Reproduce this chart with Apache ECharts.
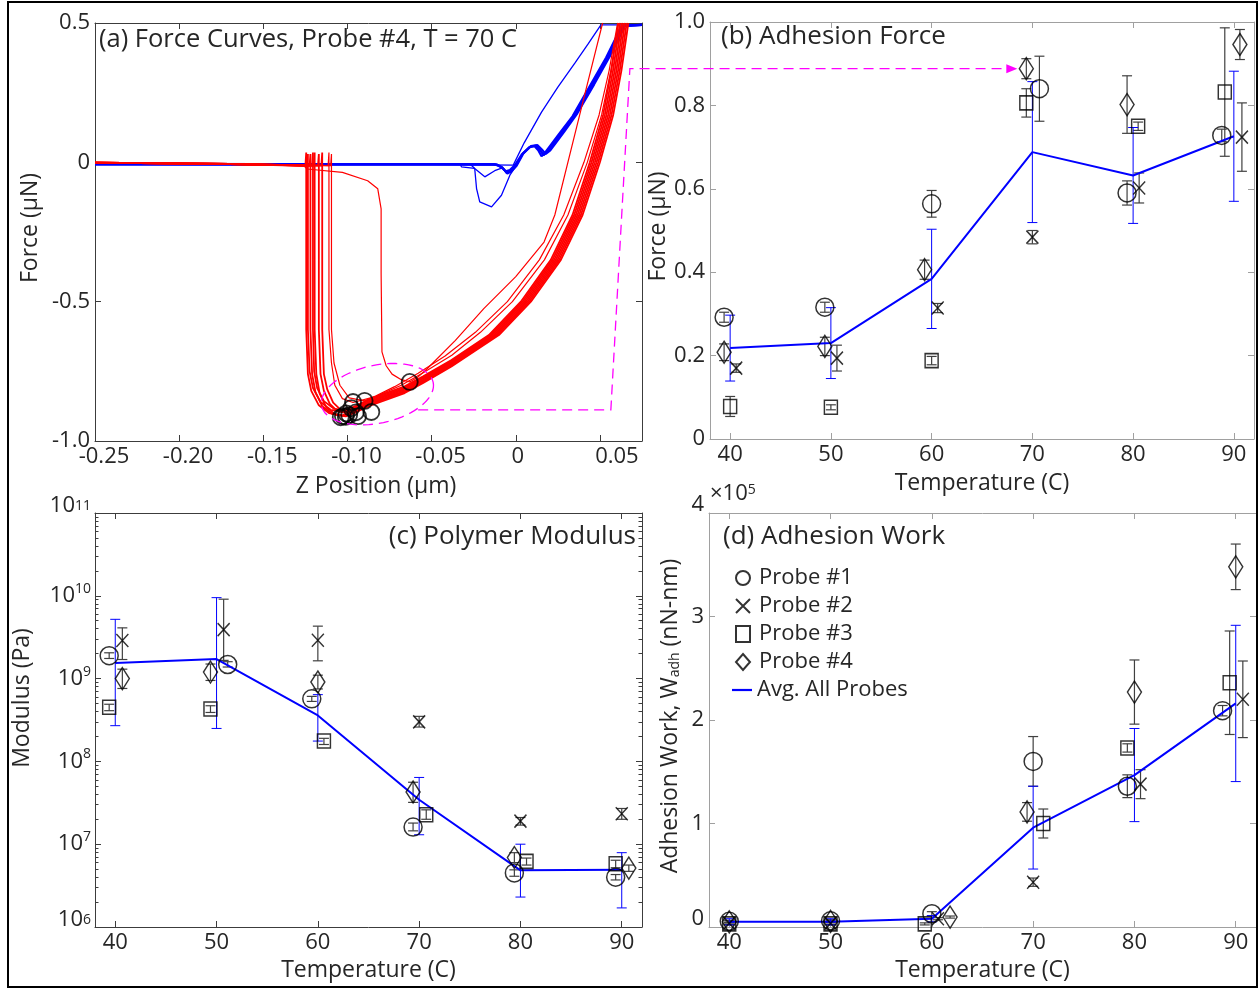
<!DOCTYPE html>
<html>
<head>
<meta charset="utf-8">
<script src="https://cdn.jsdelivr.net/npm/echarts@6/dist/echarts.min.js"></script>
<style>
  html, body { margin: 0; padding: 0; background: #fff; }
  #main { width: 1259px; height: 989px; }
</style>
</head>
<body>
<div id="main"></div>
<script>
// ---------- Panel (a): force curves, Z position (µm) vs force (µN) ----------
// retract curves (red)
const retract1 = [[0.0669,0.5],[0.0628,0.33],[0.0579,0.17],[0.050,0.0],[0.0397,-0.189],[0.0268,-0.35],[0.009,-0.5],[-0.010,-0.62],[-0.0382,-0.733],[-0.055,-0.792],[-0.066,-0.828],[-0.0858,-0.871],[-0.095,-0.897],[-0.101,-0.912],[-0.107,-0.906],[-0.1125,-0.88],[-0.1165,-0.83],[-0.1185,-0.76],[-0.1195,-0.6],[-0.1195,0.035],[-0.120,-0.012],[-0.17,-0.006],[-0.25,-0.001]];
const retract2 = [[0.0659,0.5],[0.0618,0.33],[0.0569,0.17],[0.049,0.0],[0.0387,-0.189],[0.0258,-0.35],[0.008,-0.5],[-0.011,-0.62],[-0.0382,-0.729],[-0.055,-0.788],[-0.066,-0.824],[-0.0858,-0.867],[-0.095,-0.893],[-0.102,-0.910],[-0.109,-0.903],[-0.115,-0.875],[-0.119,-0.825],[-0.121,-0.76],[-0.122,-0.6],[-0.122,0.03],[-0.1225,-0.012],[-0.17,-0.006],[-0.25,-0.001]];
const retract3 = [[0.0649,0.5],[0.0608,0.33],[0.0559,0.17],[0.048,0.0],[0.0377,-0.189],[0.0248,-0.35],[0.007,-0.5],[-0.012,-0.62],[-0.0382,-0.725],[-0.055,-0.784],[-0.066,-0.820],[-0.0858,-0.863],[-0.095,-0.889],[-0.103,-0.908],[-0.111,-0.90],[-0.117,-0.872],[-0.1215,-0.82],[-0.1235,-0.76],[-0.1245,-0.6],[-0.1245,0.035],[-0.125,-0.013],[-0.17,-0.006],[-0.25,-0.001]];
const retract4 = [[0.0639,0.5],[0.0598,0.33],[0.0549,0.17],[0.047,0.0],[0.0367,-0.189],[0.0238,-0.35],[0.006,-0.5],[-0.013,-0.62],[-0.0382,-0.721],[-0.055,-0.78],[-0.066,-0.816],[-0.0858,-0.859],[-0.095,-0.885],[-0.1005,-0.900],[-0.106,-0.893],[-0.1105,-0.867],[-0.114,-0.82],[-0.116,-0.76],[-0.117,-0.6],[-0.117,0.03],[-0.1175,-0.012],[-0.17,-0.006],[-0.25,-0.001]];
const retract5 = [[0.0629,0.5],[0.0588,0.33],[0.0539,0.17],[0.046,0.0],[0.0357,-0.189],[0.0228,-0.35],[0.005,-0.5],[-0.014,-0.62],[-0.0382,-0.717],[-0.055,-0.776],[-0.066,-0.812],[-0.0858,-0.855],[-0.094,-0.880],[-0.099,-0.895],[-0.104,-0.888],[-0.1085,-0.862],[-0.112,-0.815],[-0.114,-0.76],[-0.115,-0.6],[-0.115,0.035],[-0.1155,-0.012],[-0.17,-0.006],[-0.25,-0.001]];
const retract6 = [[0.0619,0.5],[0.0578,0.33],[0.0529,0.17],[0.045,0.0],[0.0347,-0.189],[0.0218,-0.35],[0.004,-0.5],[-0.015,-0.62],[-0.0382,-0.713],[-0.055,-0.772],[-0.066,-0.808],[-0.0858,-0.851],[-0.095,-0.878],[-0.102,-0.895],[-0.110,-0.888],[-0.116,-0.86],[-0.1205,-0.81],[-0.1225,-0.75],[-0.1235,-0.6],[-0.1235,0.03],[-0.124,-0.012],[-0.17,-0.006],[-0.25,-0.001]];
const retract7 = [[0.0609,0.5],[0.0568,0.33],[0.0519,0.17],[0.044,0.0],[0.0337,-0.189],[0.0208,-0.35],[0.003,-0.5],[-0.016,-0.62],[-0.0382,-0.709],[-0.055,-0.768],[-0.066,-0.804],[-0.0858,-0.847],[-0.095,-0.874],[-0.1015,-0.890],[-0.108,-0.884],[-0.114,-0.857],[-0.118,-0.81],[-0.1198,-0.75],[-0.1205,-0.6],[-0.1205,0.035],[-0.121,-0.012],[-0.17,-0.006],[-0.25,-0.001]];
const retract8 = [[0.061,0.5],[0.0565,0.33],[0.051,0.17],[0.0425,0.0],[0.031,-0.189],[0.017,-0.35],[-0.002,-0.5],[-0.021,-0.61],[-0.038,-0.692],[-0.055,-0.755],[-0.068,-0.80],[-0.083,-0.84],[-0.0967,-0.862],[-0.103,-0.848],[-0.1075,-0.80],[-0.1095,-0.72],[-0.111,-0.6],[-0.111,0.035],[-0.1115,-0.012],[-0.17,-0.006],[-0.25,-0.001]];
const retract9 = [[0.0605,0.5],[0.0555,0.33],[0.0495,0.17],[0.0405,0.0],[0.0285,-0.189],[0.014,-0.35],[-0.005,-0.5],[-0.024,-0.61],[-0.042,-0.695],[-0.058,-0.757],[-0.072,-0.805],[-0.083,-0.838],[-0.0898,-0.856],[-0.099,-0.845],[-0.1045,-0.80],[-0.108,-0.72],[-0.1095,-0.6],[-0.1095,0.03],[-0.110,-0.012],[-0.17,-0.006],[-0.25,-0.001]];
const retract10 = [[0.0516,0.5],[0.040,0.22],[0.0232,-0.189],[0.0168,-0.286],[0.0,-0.41],[-0.019,-0.525],[-0.036,-0.64],[-0.0525,-0.74],[-0.058,-0.77],[-0.063,-0.788],[-0.068,-0.78],[-0.0735,-0.76],[-0.077,-0.73],[-0.0795,-0.68],[-0.080,-0.40],[-0.080,-0.167],[-0.082,-0.095],[-0.088,-0.066],[-0.103,-0.036],[-0.124,-0.024],[-0.126,-0.012],[-0.17,-0.006],[-0.25,-0.001]];
const retractCurves = [retract1, retract2, retract3, retract4, retract5, retract6, retract7, retract8, retract9, retract10];

// approach curves (blue)
const approachThin = [[-0.25,-0.006],[-0.15,-0.007],[-0.05,-0.007],[-0.0015,-0.01],[0.005,0.07],[0.0153,0.18],[0.025,0.27],[0.0351,0.356],[0.043,0.425],[0.0506,0.493],[0.075,0.493]];
const approach1 = [[-0.25,-0.006],[-0.15,-0.007],[-0.012,-0.007],[-0.008,-0.018],[-0.0055,-0.036],[-0.003,-0.03],[0.0,-0.012],[0.004,0.03],[0.0085,0.056],[0.012,0.06],[0.0145,0.044],[0.0165,0.026],[0.019,0.04],[0.027,0.105],[0.0351,0.17],[0.045,0.273],[0.055,0.38],[0.0639,0.49],[0.075,0.493]];
const approach2 = [[-0.25,-0.008],[-0.15,-0.008],[-0.011,-0.008],[-0.0075,-0.022],[-0.005,-0.04],[-0.0025,-0.032],[0.0005,-0.012],[0.0045,0.032],[0.009,0.058],[0.0128,0.062],[0.0155,0.046],[0.0178,0.03],[0.0205,0.043],[0.0285,0.108],[0.0365,0.175],[0.0465,0.279],[0.0563,0.385],[0.0648,0.49],[0.075,0.493]];
const approach3 = [[-0.25,-0.005],[-0.15,-0.006],[-0.013,-0.006],[-0.009,-0.016],[-0.006,-0.032],[-0.0035,-0.028],[-0.0005,-0.01],[0.0035,0.028],[0.008,0.054],[0.0112,0.058],[0.0135,0.042],[0.0153,0.022],[0.0175,0.036],[0.0255,0.1],[0.0337,0.165],[0.0435,0.268],[0.0537,0.376],[0.063,0.49],[0.075,0.493]];
const approachDip1 = [[-0.25,-0.007],[-0.033,-0.007],[-0.0323,-0.016],[-0.0244,-0.022],[-0.0233,-0.094],[-0.0214,-0.142],[-0.0144,-0.160],[-0.0085,-0.118],[-0.0035,-0.046],[0.0004,-0.01],[0.004,0.03],[0.0085,0.056],[0.012,0.06],[0.0145,0.044],[0.0165,0.026],[0.019,0.04],[0.027,0.105],[0.0351,0.17],[0.045,0.273],[0.055,0.38],[0.0639,0.49],[0.075,0.493]];
const approachDip2 = [[-0.25,-0.007],[-0.027,-0.007],[-0.0244,-0.022],[-0.0184,-0.052],[-0.0125,-0.03],[-0.008,-0.02],[-0.0055,-0.04],[-0.002,-0.026],[0.0002,-0.01],[0.004,0.03],[0.0085,0.056],[0.012,0.06],[0.0145,0.044],[0.0165,0.026],[0.019,0.04],[0.027,0.105],[0.0351,0.17],[0.045,0.273],[0.055,0.38],[0.0639,0.49],[0.075,0.493]];
const approachCurves = [approachThin, approach1, approach2, approach3, approachDip1, approachDip2];
const thinApproach = [approachThin, approachDip1, approachDip2];

// pull-off minima of the retract curves
const pullOffPoints = [[-0.063,-0.788],[-0.0967,-0.860],[-0.0898,-0.856],[-0.1007,-0.901],[-0.1027,-0.911],[-0.0858,-0.896],[-0.0937,-0.911],[-0.0977,-0.882],[-0.104,-0.915],[-0.099,-0.907],[-0.095,-0.897],[-0.101,-0.913]];

// axis ticks
const zTicks = [-0.25, -0.2, -0.15, -0.1, -0.05, 0, 0.05];
const forceTicksA = [-1, -0.5, 0, 0.5];
const tempTicks = [40, 50, 60, 70, 80, 90];
const forceTicksB = [0, 0.2, 0.4, 0.6, 0.8, 1.0];
const workTicks = [0, 1e5, 2e5, 3e5, 4e5];

// ---------- Panel (b): adhesion force (µN) [T, value, ±err] ----------
const forceP1 = [[39.4,0.292,0.012],[49.4,0.316,0.012],[60,0.564,0.032],[70.7,0.840,0.078],[79.4,0.590,0.029],[88.8,0.728,0.015]];
const forceP2 = [[40.6,0.170,0.010],[50.6,0.194,0.031],[60.6,0.314,0.011],[70,0.484,0.016],[80.6,0.602,0.036],[90.8,0.724,0.082]];
const forceP3 = [[40,0.078,0.024],[50,0.076,0.006],[60,0.188,0.010],[69.4,0.806,0.034],[80.5,0.750,0.010],[89.1,0.832,0.154]];
const forceP4 = [[39.4,0.208,0.020],[49.4,0.222,0.022],[59.3,0.406,0.023],[69.4,0.888,0.024],[79.4,0.802,0.069],[90.6,0.946,0.036]];
const forceAvg = [[40,0.218,0.079],[50,0.230,0.085],[60,0.384,0.119],[70,0.688,0.169],[80,0.632,0.115],[90,0.726,0.156]];

// ---------- Panel (c): polymer modulus (Pa) [T, value, low, high] ----------
const modP1 = [[39.4,1.89e9,1.75e9,2.05e9],[51.1,1.48e9,1.38e9,1.6e9],[59.4,5.7e8,5.3e8,6.1e8],[69.4,1.61e7,1.45e7,1.8e7],[79.4,4.5e6,4.1e6,4.9e6],[89.4,4.0e6,3.7e6,4.3e6]];
const modP2 = [[40.7,2.89e9,1.7e9,4.1e9],[50.7,3.9e9,1.66e9,9.1e9],[60,2.9e9,1.64e9,4.3e9],[70,3.0e8,2.6e8,3.5e8],[80,1.9e7,1.7e7,2.1e7],[90,2.33e7,2.0e7,2.7e7]];
const modP3 = [[39.4,4.5e8,4.1e8,4.9e8],[49.4,4.3e8,3.9e8,4.7e8],[60.6,1.76e8,1.6e8,1.9e8],[70.7,2.27e7,2.0e7,2.6e7],[80.6,6.2e6,5.6e6,6.8e6],[89.4,5.8e6,5.2e6,6.4e6]];
const modP4 = [[40.7,1.0e9,7.6e8,1.3e9],[49.4,1.2e9,9.5e8,1.5e9],[60,9.1e8,7.5e8,1.1e9],[69.4,4.27e7,3.2e7,5.6e7],[79.4,6.9e6,6.0e6,7.9e6],[90.7,5.15e6,4.7e6,5.6e6]];
const modAvg = [[40,1.54e9,2.7e8,5.2e9],[50,1.72e9,2.5e8,9.5e9],[60,3.59e8,1.76e8,6.4e8],[70,3.44e7,1.3e7,6.4e7],[80,4.83e6,2.3e6,1.0e7],[90,4.92e6,1.7e6,7.9e6]];

// ---------- Panel (d): adhesion work (nN-nm) [T, value, ±err] ----------
const workP1 = [[40,5.5e3,1e3],[50,6e3,1e3],[60,1.28e4,2e3],[70,1.60e5,2.4e4],[79.3,1.36e5,1.1e4],[88.7,2.09e5,5e3]];
const workP2 = [[40,3.5e3,1e3],[50,3.5e3,1e3],[60.6,8e3,1e3],[70,4.33e4,4e3],[80.6,1.38e5,1.4e4],[90.7,2.20e5,3.7e4]];
const workP3 = [[40,3e3,1e3],[50,3e3,1e3],[59.3,3e3,1e3],[71,1.0e5,1.4e4],[79.3,1.73e5,4e3],[89.4,2.36e5,5e4]];
const workP4 = [[40,5e3,1e3],[50,5.5e3,1e3],[61.8,9.6e3,1e3],[69.4,1.112e5,9e3],[80,2.27e5,3.1e4],[90,3.48e5,2.2e4]];
const workAvg = [[40,5e3,3e3],[50,5e3,3e3],[60,8e3,3e3],[70,9.6e4,4.0e4],[80,1.468e5,4.5e4],[90,2.16e5,7.55e4]];

const probeNames = ['Probe #1', 'Probe #2', 'Probe #3', 'Probe #4'];
const avgName = 'Avg. All Probes';

// ---------- styling ----------
const FONT = '"Open Sans", "Noto Sans", "DejaVu Sans", sans-serif';
const TXT = '#262626';
const DARK_AX = '#3c3c3c';
const LIGHT_AX = '#a0a0a0';
const BLUE = '#0000ff';
const RED = '#ff0000';
const PINK = '#ff00ff';

const probeSymbols = [
  { symbol: 'circle', size: 18 },
  { symbol: 'path://M0,0L10,10M10,0L0,10', size: [12, 13] },
  { symbol: 'rect', size: [13, 14] },
  { symbol: 'diamond', size: [14, 22] }
];

const grids = [
  { left: 95, top: 23, width: 547, height: 418 },
  { left: 710, top: 22, width: 544, height: 417 },
  { left: 95, top: 513, width: 547, height: 414 },
  { left: 709, top: 513, width: 547, height: 414 }
];

const lbl = { fontFamily: FONT, fontSize: 22, color: TXT };

function fmtForce(v) { return v === 0 ? '0' : v.toFixed(1); }
// Z labels: digits sit slightly right of their ticks
function fmtZ(v) {
  if (v === 0) return '{z|0}';
  if (v > 0) return '{p|' + v.toFixed(2) + '}';
  return '{n|' + v.toFixed(2) + '}';
}
const zRich = {
  z: Object.assign({ padding: [0, 0, 0, 4] }, lbl),
  p: Object.assign({ padding: [0, 0, 0, 34] }, lbl),
  n: Object.assign({ padding: [0, 0, 0, 18] }, lbl)
};

function xAxisPair(gi, color, min, max, ticks, formatter, name, nameGap, namePad, rich) {
  const base = {
    type: 'value', gridIndex: gi, min: min, max: max,
    splitLine: { show: false },
    axisLine: { show: true, onZero: false, lineStyle: { color: color, width: 1 } },
    axisTick: { show: true, inside: true, length: 6, customValues: ticks, lineStyle: { color: color } }
  };
  const label = Object.assign({ show: true, customValues: ticks, formatter: formatter, margin: 5 }, lbl);
  if (rich) label.rich = rich;
  return [
    Object.assign({}, base, {
      position: 'bottom', axisLabel: label,
      name: name, nameLocation: 'middle', nameGap: nameGap,
      nameTextStyle: { fontFamily: FONT, fontSize: 23, color: TXT, padding: namePad || 0 }
    }),
    Object.assign({}, base, { position: 'top', axisLabel: { show: false } })
  ];
}

function yAxisPair(gi, color, min, max, ticks, formatter, name, nameGap, namePad, extra, labelExtra) {
  const base = {
    type: 'value', gridIndex: gi, min: min, max: max,
    splitLine: { show: false },
    axisLine: { show: true, onZero: false, lineStyle: { color: color, width: 1 } },
    axisTick: { show: true, inside: true, length: 6, customValues: ticks, lineStyle: { color: color } }
  };
  return [
    Object.assign({}, base, {
      position: 'left',
      axisLabel: Object.assign({ show: true, customValues: ticks, formatter: formatter, margin: 5,
        padding: [0, 0, 8, 0] }, lbl, labelExtra || {}),
      name: name, nameLocation: 'middle', nameGap: nameGap,
      nameTextStyle: Object.assign({ fontFamily: FONT, fontSize: 23, color: TXT, padding: namePad || 0 }, extra || {})
    }),
    Object.assign({}, base, { position: 'right', axisLabel: { show: false } })
  ];
}

// x axes: 0,1 (a)  2,3 (b)  4,5 (c)  6,7 (d)
const xAxes = [].concat(
  xAxisPair(0, DARK_AX, -0.25, 0.075, zTicks, fmtZ, 'Z Position (\u03bcm)', 34, [0, 0, 0, 15], zRich),
  xAxisPair(1, LIGHT_AX, 38, 92, tempTicks, v => String(v), 'Temperature (C)', 33),
  xAxisPair(2, DARK_AX, 38, 92, tempTicks, v => String(v), 'Temperature (C)', 32),
  xAxisPair(3, LIGHT_AX, 38, 92, tempTicks, v => String(v), 'Temperature (C)', 32)
);

// log axis for the modulus panel (powers of ten, end labels nudged upward)
const supRich = {
  b: { fontFamily: FONT, fontSize: 22, color: TXT, lineHeight: 28 },
  s: { fontFamily: FONT, fontSize: 14, color: TXT, lineHeight: 14, verticalAlign: 'top' },
  B: { fontFamily: FONT, fontSize: 22, color: TXT, lineHeight: 28, padding: [0, 0, 14, 0] },
  S: { fontFamily: FONT, fontSize: 14, color: TXT, lineHeight: 14, verticalAlign: 'top' }
};
function fmtPow(v) {
  const e = Math.round(Math.log10(v));
  if (e === 11 || e === 6) return '{B|10}{S|' + e + '}';
  return '{b|10}{s|' + e + '}';
}
function modLogAxis(position, showLabel) {
  return {
    type: 'log', logBase: 10, gridIndex: 2, min: 1e6, max: 1e11, position: position,
    splitLine: { show: false },
    axisLine: { show: true, onZero: false, lineStyle: { color: DARK_AX } },
    axisTick: { show: true, inside: true, length: 6, lineStyle: { color: DARK_AX } },
    axisLabel: showLabel ? { show: true, margin: 4, formatter: fmtPow, rich: supRich } : { show: false }
  };
}
// minor decade ticks (2..9 within each decade), on a log10 value axis
const minorDecadeTicks = [];
for (let d = 6; d < 11; d++) for (let k = 2; k <= 9; k++) minorDecadeTicks.push(d + Math.log10(k));
function minorAxis(position) {
  return {
    type: 'value', gridIndex: 2, min: 6, max: 11, position: position,
    splitLine: { show: false }, axisLine: { show: false }, axisLabel: { show: false },
    axisTick: { show: true, inside: true, length: 3.5, customValues: minorDecadeTicks, lineStyle: { color: DARK_AX } }
  };
}

const modLeft = modLogAxis('left', true);
modLeft.name = 'Modulus (Pa)';
modLeft.nameLocation = 'middle';
modLeft.nameGap = 61;
modLeft.nameTextStyle = { fontFamily: FONT, fontSize: 23, color: TXT, padding: [0, 0, 0, 44] };

// work labels in units of 1e5; end labels nudged upward
function fmtWork(v) {
  const n = Math.round(v / 1e5);
  return (n === 0 || n === 4) ? '{e|' + n + '}' : String(n);
}

// y axes: 0,1 (a)  2,3 (b)  4,5 (c)  6,7 (d)  8,9 (c minor)
const yAxes = [].concat(
  yAxisPair(0, DARK_AX, -1, 0.5, forceTicksA, fmtForce, 'Force (\u03bcN)', 53, [0, 0, 0, 8]),
  yAxisPair(1, LIGHT_AX, 0, 1, forceTicksB, fmtForce, 'Force (\u03bcN)', 38, [0, 0, 0, 8]),
  [modLeft, modLogAxis('right', false)],
  yAxisPair(3, LIGHT_AX, 0, 4e5, workTicks, fmtWork,
    'Adhesion Work, W{sub|adh} (nN-nm)', 27, [0, 0, 0, 8],
    { rich: { sub: { fontFamily: FONT, fontSize: 14, color: TXT, verticalAlign: 'bottom', lineHeight: 10 } } },
    { padding: 0, rich: { e: Object.assign({ padding: [0, 0, 16, 0] }, lbl) } }),
  [minorAxis('left'), minorAxis('right')]
);

// ---------- series ----------
function errorBars(color, capHalf, width) {
  return function (params, api) {
    const x = api.value(0);
    const top = api.coord([x, api.value(2)]);
    const bot = api.coord([x, api.value(1)]);
    const st = { stroke: color, lineWidth: width, fill: null };
    return {
      type: 'group',
      children: [
        { type: 'line', shape: { x1: top[0], y1: top[1], x2: bot[0], y2: bot[1] }, style: st },
        { type: 'line', shape: { x1: top[0] - capHalf, y1: top[1], x2: top[0] + capHalf, y2: top[1] }, style: st },
        { type: 'line', shape: { x1: bot[0] - capHalf, y1: bot[1], x2: bot[0] + capHalf, y2: bot[1] }, style: st }
      ]
    };
  };
}

const series = [];

approachCurves.forEach(c => series.push({
  type: 'line', xAxisIndex: 0, yAxisIndex: 0, data: c, symbol: 'none', silent: true,
  lineStyle: { color: BLUE, width: thinApproach.indexOf(c) >= 0 ? 1.3 : 2.2 }, z: 2
}));
retractCurves.forEach((c, i) => series.push({
  type: 'line', xAxisIndex: 0, yAxisIndex: 0, data: c, symbol: 'none', silent: true,
  lineStyle: { color: RED, width: i >= 7 ? 1.2 : 1.8 }, z: 3
}));
series.push({
  type: 'scatter', xAxisIndex: 0, yAxisIndex: 0, data: pullOffPoints, symbol: 'circle', symbolSize: 16,
  itemStyle: { color: 'rgba(0,0,0,0)', borderColor: '#000', borderWidth: 1.8 }, silent: true, z: 5
});

function addPanel(xi, yi, probes, avg, toRange) {
  probes.forEach((pts, k) => {
    series.push({
      type: 'custom', xAxisIndex: xi, yAxisIndex: yi, silent: true, z: 3,
      renderItem: errorBars('#404040', 5, 1.2),
      encode: { x: 0, y: [1, 2] },
      data: pts.map(toRange)
    });
    series.push({
      type: 'scatter', name: probeNames[k], xAxisIndex: xi, yAxisIndex: yi, silent: true, z: 5,
      symbol: probeSymbols[k].symbol, symbolSize: probeSymbols[k].size,
      itemStyle: { color: 'rgba(0,0,0,0)', borderColor: '#000', borderWidth: 1.5 },
      data: pts.map(p => [p[0], p[1]])
    });
  });
  series.push({
    type: 'custom', xAxisIndex: xi, yAxisIndex: yi, silent: true, z: 4,
    renderItem: errorBars(BLUE, 5, 1),
    encode: { x: 0, y: [1, 2] },
    data: avg.map(toRange)
  });
  series.push({
    type: 'line', name: avgName, xAxisIndex: xi, yAxisIndex: yi, silent: true, z: 4,
    symbol: 'none', itemStyle: { color: BLUE }, lineStyle: { color: BLUE, width: 2 },
    data: avg.map(p => [p[0], p[1]])
  });
}
const symRange = p => [p[0], p[1] - p[2], p[1] + p[2]];
const logRange = p => [p[0], p[2], p[3]];
addPanel(2, 2, [forceP1, forceP2, forceP3, forceP4], forceAvg, symRange);
addPanel(4, 4, [modP1, modP2, modP3, modP4], modAvg, logRange);
addPanel(6, 6, [workP1, workP2, workP3, workP4], workAvg, symRange);

const titleStyle = { fontFamily: FONT, fontSize: 26, fontWeight: 'normal', color: TXT };

const option = {
  animation: false,
  backgroundColor: '#ffffff',
  grid: grids,
  xAxis: xAxes,
  yAxis: yAxes,
  title: [
    { text: '(a) Force Curves, Probe #4, T = 70 C', left: 99, top: 27, padding: 0,
      textStyle: Object.assign({}, titleStyle, { fontSize: 25.5 }) },
    { text: '(b) Adhesion Force', left: 721, top: 24, textStyle: titleStyle, padding: 0 },
    { text: '(c) Polymer Modulus', right: 623, top: 524, textStyle: titleStyle, padding: 0 },
    { text: '(d) Adhesion Work', left: 723, top: 524, textStyle: titleStyle, padding: 0 }
  ],
  legend: [
    {
      data: probeNames, orient: 'vertical', left: 735, top: 567, padding: 0,
      itemWidth: 14, itemHeight: 16, itemGap: 6, selectedMode: false,
      textStyle: { fontFamily: FONT, fontSize: 22, color: TXT, lineHeight: 22, padding: [0, 0, 0, 4] }
    },
    {
      data: [{ name: avgName, icon: 'rect' }], orient: 'vertical', left: 732, top: 679, padding: 0,
      itemWidth: 20, itemHeight: 2.2, selectedMode: false,
      textStyle: { fontFamily: FONT, fontSize: 22, color: TXT, lineHeight: 22 }
    }
  ],
  series: series
};

const chart = echarts.init(document.getElementById('main'), null, { renderer: 'canvas' });
chart.setOption(option);

// ---------- annotations: pull-off ellipse and adhesion arrow ----------
const adhesionAt70 = forceP4[3];                 // diamond marker at 70 C
const pullOffLine = [[-0.058, -adhesionAt70[1]], [0.0565, -adhesionAt70[1]]];
const ellipseCenter = [-0.0822, -0.832];
const slantTopX = 0.0678;

const fa = { xAxisIndex: 0, yAxisIndex: 0 };
const fb = { xAxisIndex: 2, yAxisIndex: 2 };
const pL = chart.convertToPixel(fa, pullOffLine[0]);
const pR = chart.convertToPixel(fa, pullOffLine[1]);
const target = chart.convertToPixel(fb, [adhesionAt70[0], adhesionAt70[1]]);
const topLeft = [chart.convertToPixel(fa, [slantTopX, 0])[0], target[1]];
const tipX = target[0] - 9;

const ec = chart.convertToPixel(fa, ellipseCenter);
const ellipsePts = [];
const rx = 57, ry = 29, rot = -12 * Math.PI / 180;
for (let i = 0; i <= 72; i++) {
  const t = i / 72 * Math.PI * 2;
  const ex = rx * Math.cos(t), ey = ry * Math.sin(t);
  ellipsePts.push([ec[0] + ex * Math.cos(rot) - ey * Math.sin(rot), ec[1] + ex * Math.sin(rot) + ey * Math.cos(rot)]);
}

const dashStyle = { stroke: PINK, lineWidth: 1.3, lineDash: [10, 6], fill: null };
chart.setOption({
  graphic: [
    { type: 'polyline', shape: { points: ellipsePts }, style: dashStyle, z: 10, silent: true },
    { type: 'polyline', shape: { points: [pL, pR, topLeft, [tipX - 10, target[1]]] }, style: dashStyle, z: 10, silent: true },
    { type: 'polygon', shape: { points: [[tipX, target[1]], [tipX - 11, target[1] - 4.5], [tipX - 11, target[1] + 4.5]] },
      style: { fill: PINK }, z: 10, silent: true },
    { type: 'text', left: 710, top: 483, silent: true,
      style: { text: '\u00d710{s|5}', fontFamily: FONT, fontSize: 22, fill: TXT,
        rich: { s: { fontFamily: FONT, fontSize: 14, fill: TXT, lineHeight: 14, verticalAlign: 'top' } } } },
    { type: 'rect', shape: { x: 8, y: 2, width: 1249, height: 985 },
      style: { fill: null, stroke: '#000', lineWidth: 2 }, z: 20, silent: true }
  ]
});
</script>
</body>
</html>
